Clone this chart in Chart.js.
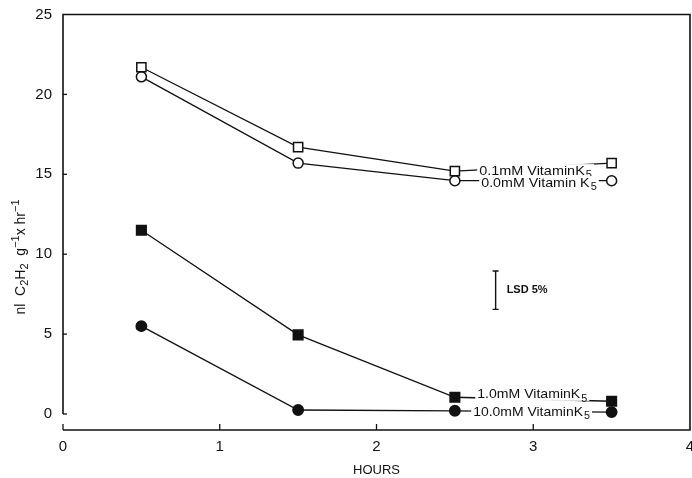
<!DOCTYPE html>
<html>
<head>
<meta charset="utf-8">
<script src="https://cdn.jsdelivr.net/npm/chart.js@4/dist/chart.umd.min.js"></script>
<style>
html,body{margin:0;padding:0;background:#fff;}
#wrap{width:692px;height:478px;position:relative;}
</style>
</head>
<body>
<div id="wrap"><canvas id="c" width="692" height="478"></canvas></div>
<script>
// ---- data ----
const hours = [0.5, 1.5, 2.5, 3.5];
const vitK01 = [21.7, 16.7, 15.2, 15.7];   // 0.1 mM, open squares
const vitK00 = [21.1, 15.7, 14.6, 14.6];   // 0.0 mM, open circles
const vitK1  = [11.5, 4.95, 1.05, 0.8];    // 1.0 mM, filled squares
const vitK10 = [5.5, 0.25, 0.2, 0.12];     // 10.0 mM, filled circles
const xTicks = [0, 1, 2, 3, 4];
const yTicks = [0, 5, 10, 15, 20, 25];
const seriesNames = ['0.1mM VitaminK', '0.0mM Vitamin K', '1.0mM VitaminK', '10.0mM VitaminK'];
const seriesSub = '5';
const lsdX = 2.76, lsdLow = 6.55, lsdHigh = 8.95;
const lsdLabel = 'LSD 5%';
const xTitle = 'HOURS';

function pts(ys){ return hours.map((h,i)=>({x:h, y:ys[i]})); }

// label placement (data units): start x, end x, y centre
const labelPlaces = [
  {x0:2.655, x1:3.375, y:15.2},
  {x0:2.668, x1:3.405, y:14.45},
  {x0:2.643, x1:3.345, y:1.2},
  {x0:2.617, x1:3.362, y:0.12}
];

const INK = '#111';
const FAM = '"Liberation Sans", Arial, sans-serif';

const decor = {
  id:'decor',
  afterDatasetsDraw(chart){
    const ctx = chart.ctx, xs = chart.scales.x, ys = chart.scales.y;
    const a = chart.chartArea;
    ctx.save();
    // series labels with white backing
    seriesNames.forEach((name,i)=>{
      const p = labelPlaces[i];
      const px0 = xs.getPixelForValue(p.x0), px1 = xs.getPixelForValue(p.x1);
      const py = ys.getPixelForValue(p.y);
      ctx.font = '13px ' + FAM;
      const w1 = ctx.measureText(name).width;
      ctx.font = '10px ' + FAM;
      const w2 = ctx.measureText(seriesSub).width;
      const total = w1 + w2 + 1;
      const sc = (px1 - px0) / total;
      ctx.fillStyle = '#fff';
      ctx.fillRect(px0 - 2, py - 7, (px1 - px0) + 4, 13);
      ctx.save();
      ctx.translate(px0, py);
      ctx.scale(sc, 1);
      ctx.fillStyle = INK;
      ctx.textBaseline = 'middle';
      ctx.textAlign = 'left';
      ctx.font = '13px ' + FAM;
      ctx.fillText(name, 0, 0);
      ctx.font = '10px ' + FAM;
      ctx.fillText(seriesSub, w1 + 1, 4);
      ctx.restore();
    });
    // frame
    ctx.strokeStyle = INK;
    ctx.lineWidth = 1.6;
    const y0 = ys.getPixelForValue(0);
    const xl = xs.getPixelForValue(0), xr = xs.getPixelForValue(4);
    ctx.beginPath();
    ctx.moveTo(xl, y0); ctx.lineTo(xl, a.top); ctx.lineTo(xr, a.top); ctx.lineTo(xr, a.bottom); ctx.lineTo(xl, a.bottom);
    ctx.stroke();
    // y ticks (inward)
    ctx.lineWidth = 1.3;
    yTicks.forEach(v=>{
      if (v === 25) return;
      const y = ys.getPixelForValue(v);
      ctx.beginPath(); ctx.moveTo(xl, y); ctx.lineTo(xl + 4, y); ctx.stroke();
    });
    // x ticks (inward)
    xTicks.forEach(v=>{
      if (v === 4) return;
      const x = xs.getPixelForValue(v);
      ctx.beginPath(); ctx.moveTo(x, a.bottom); ctx.lineTo(x, a.bottom - 6); ctx.stroke();
    });
    // LSD bar
    const lx = xs.getPixelForValue(lsdX);
    const lt = ys.getPixelForValue(lsdHigh), lb = ys.getPixelForValue(lsdLow);
    ctx.lineWidth = 1.4;
    ctx.beginPath();
    ctx.moveTo(lx, lt); ctx.lineTo(lx, lb);
    ctx.moveTo(lx - 3, lt); ctx.lineTo(lx + 3, lt);
    ctx.moveTo(lx - 3, lb); ctx.lineTo(lx + 3, lb);
    ctx.stroke();
    ctx.fillStyle = INK;
    ctx.font = 'bold 11px ' + FAM;
    ctx.textBaseline = 'middle';
    ctx.textAlign = 'left';
    ctx.fillText(lsdLabel, lx + 11, (lt + lb) / 2);
    // y title (rotated, with sub/superscripts)
    const segs = [
      {t:'nl  C'}, {t:'2', sub:true}, {t:'H'}, {t:'2', sub:true},
      {t:'  g'}, {t:'\u22121', sup:true}, {t:'x hr'}, {t:'\u22121', sup:true}
    ];
    const mainF = '14px ' + FAM;
    const smallF = '11px ' + FAM;
    let tw = 0;
    segs.forEach(s=>{ ctx.font = (s.sub||s.sup) ? smallF : mainF; s.w = ctx.measureText(s.t).width; tw += s.w; });
    ctx.save();
    ctx.translate(21, 257);
    ctx.rotate(-Math.PI/2);
    let cx = -tw/2;
    segs.forEach(s=>{
      ctx.font = (s.sub||s.sup) ? smallF : mainF;
      const dy = s.sub ? 4 : (s.sup ? -5 : 0);
      ctx.fillText(s.t, cx, dy);
      cx += s.w;
    });
    ctx.restore();
    ctx.restore();
  }
};

const lineDs = (label, data, style, filled, r) => ({
  label, data,
  showLine: true,
  borderColor: INK,
  borderWidth: 1.3,
  pointStyle: style,
  pointRadius: r,
  pointHoverRadius: r,
  pointBorderWidth: 1.5,
  pointBorderColor: INK,
  pointBackgroundColor: filled ? INK : '#fff',
  tension: 0,
  clip: false
});

new Chart(document.getElementById('c'), {
  type: 'scatter',
  data: {
    datasets: [
      lineDs('0.1mM Vitamin K5', pts(vitK01), 'rect', false, 6.5),
      lineDs('0.0mM Vitamin K5', pts(vitK00), 'circle', false, 5),
      lineDs('1.0mM Vitamin K5', pts(vitK1), 'rect', true, 6.8),
      lineDs('10.0mM Vitamin K5', pts(vitK10), 'circle', true, 5.2)
    ]
  },
  options: {
    responsive: false,
    animation: false,
    events: [],
    layout: { autoPadding: false, padding: { left: 0, right: 2, top: 14.5, bottom: 0 } },
    plugins: { legend: { display: false }, tooltip: { enabled: false } },
    scales: {
      x: {
        type: 'linear', min: 0, max: 4,
        afterFit(s){ s.height = 48; s.paddingLeft = 0; s.paddingRight = 0; },
        afterBuildTicks(s){ s.ticks = xTicks.map(v=>({value:v})); },
        grid: { display: false, drawTicks: false },
        border: { display: false },
        ticks: { color: INK, padding: 8, font: { family: FAM, size: 15 } },
        title: { display: true, text: xTitle, color: INK, padding: { top: 0, bottom: 0 },
                 font: { family: FAM, size: 13 } }
      },
      y: {
        type: 'linear', min: -1, max: 25,
        afterFit(s){ s.width = 63; s.paddingTop = 0; s.paddingBottom = 0; },
        afterBuildTicks(s){ s.ticks = yTicks.map(v=>({value:v})); },
        grid: { display: false, drawTicks: false },
        border: { display: false },
        ticks: { color: INK, padding: 11, font: { family: FAM, size: 15 } }
      }
    }
  },
  plugins: [decor]
});
</script>
</body>
</html>
